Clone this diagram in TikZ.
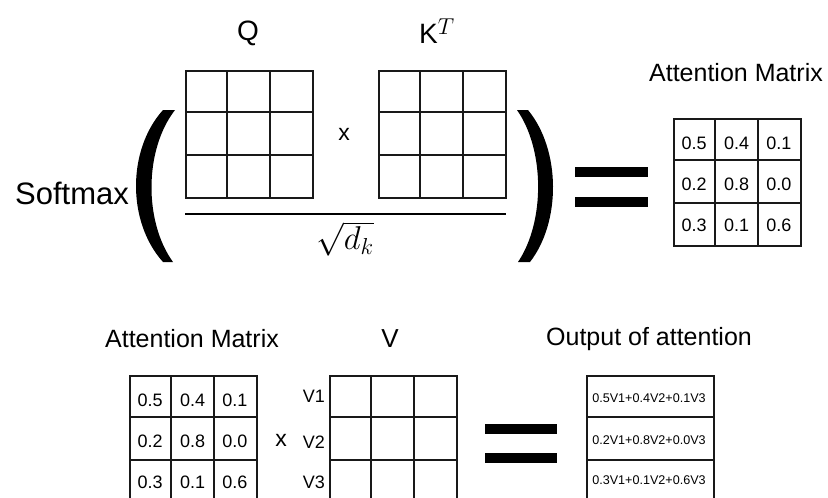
\RequirePackage{fix-cm}
\documentclass[tikz,border=0pt]{standalone}
\usepackage{fontspec}
\setmainfont{Liberation Sans}
\newcommand\mygrid[4]{% name, left, top, 1 = draw column lines
  \node[mbox, anchor=north west] (#1) at (#2,#3) {};
  \foreach \i in {1,2} {
    \draw[gl] (#2,{#3+\i*42.33}) -- ++(127,0);
    \ifnum#4=1 \draw[gl] ({#2+\i*42.33},#3) -- ++(0,127);\fi
  }
}
\begin{document}
\begin{tikzpicture}[x=1pt,y=-1pt,
  gl/.style={line width=2pt, black!90},
  mbox/.style={draw=black!90, line width=2pt, minimum width=127pt, minimum height=127pt, inner sep=0pt},
  big/.style={font=\fontsize{31}{35}\selectfont, inner sep=0pt},
  lbl/.style={font=\fontsize{25}{29}\selectfont, inner sep=0pt},
  cell/.style={font=\fontsize{18}{21}\selectfont, inner sep=0pt},
  small/.style={font=\fontsize{12.6}{15}\selectfont, inner sep=0pt},
  bar/.style={fill=black, draw=none}]
\clip (0,0) rectangle (828,498);
\useasboundingbox (0,0) rectangle (828,498);

% ---------- top equation ----------
\node[big, anchor=center] (softmax) at (72,193) {Softmax};

% parentheses
\fill (163,110) .. controls (127,150) and (127,222) .. (163,262)
      -- (173,262) .. controls (144,222) and (144,150) .. (175,110) -- cycle;
\fill (528,110) .. controls (561,150) and (561,222) .. (530,262)
      -- (518,262) .. controls (545,222) and (545,150) .. (517,110) -- cycle;

\mygrid{Q}{185}{70}{1}
\mygrid{KT}{378}{70}{1}
\node[lbl, font=\fontsize{28}{32}\selectfont] (qlab) at (248,33) {Q};
\node[lbl, font=\fontsize{28}{32}\selectfont, anchor=base west] (klab) at (419,43)
  {K\raisebox{9pt}{\fontsize{23}{26}\selectfont$T$}};
\node[lbl, font=\fontsize{23}{26}\selectfont] (times1) at (344,134) {x};

\coordinate (fl) at (185,214);
\coordinate (fr) at (506,214);
\draw[line width=1.2pt] (fl) -- (fr);
\node[inner sep=0pt, font=\fontsize{33}{37}\selectfont] (sq) at (345,239) {$\sqrt{d_k}$};

% equals
\fill[bar] (575,167) rectangle (648,177);
\fill[bar] (575,197) rectangle (648,207);

\node[lbl] (attlab1) at (736,73) {Attention Matrix};
\mygrid{A1}{673}{118}{1}
\foreach \v [count=\k from 0] in {0.5,0.4,0.1,0.2,0.8,0.0,0.3,0.1,0.6} {
  \pgfmathtruncatemacro\r{\k/3}
  \pgfmathtruncatemacro\c{mod(\k,3)}
  \node[cell] (ta\k) at ({673+21.2+\c*42.33},{118+21.2+\r*42.33+4-1.5*\r}) {\v};
}

% ---------- bottom equation ----------
\node[lbl] (attlab2) at (192,339) {Attention Matrix};
\mygrid{A2}{129}{375}{1}
\foreach \v [count=\k from 0] in {0.5,0.4,0.1,0.2,0.8,0.0,0.3,0.1,0.6} {
  \pgfmathtruncatemacro\r{\k/3}
  \pgfmathtruncatemacro\c{mod(\k,3)}
  \node[cell] (ba\k) at ({129+21.2+\c*42.33},{375+21.2+\r*42.33+4-1.5*\r}) {\v};
}

\node[lbl, font=\fontsize{26}{30}\selectfont] (vlab) at (390,339) {V};
\mygrid{V}{329}{375}{1}
\node[cell, anchor=east] (v1) at (325,396) {V1};
\node[cell, anchor=east] (v2) at (325,442) {V2};
\node[cell, anchor=east] (v3) at (325,482) {V3};
\node[lbl, font=\fontsize{23}{26}\selectfont] (times2) at (281,440) {x};

\fill[bar] (485,424) rectangle (557,434);
\fill[bar] (485,453) rectangle (557,463);

\node[lbl] (outlab) at (649,339) {Output of attention};
\mygrid{O}{586}{375}{0}
\node[small] (o1) at (649,398) {0.5V1+0.4V2+0.1V3};
\node[small] (o2) at (649,440) {0.2V1+0.8V2+0.0V3};
\node[small] (o3) at (649,480) {0.3V1+0.1V2+0.6V3};
\end{tikzpicture}
\end{document}
